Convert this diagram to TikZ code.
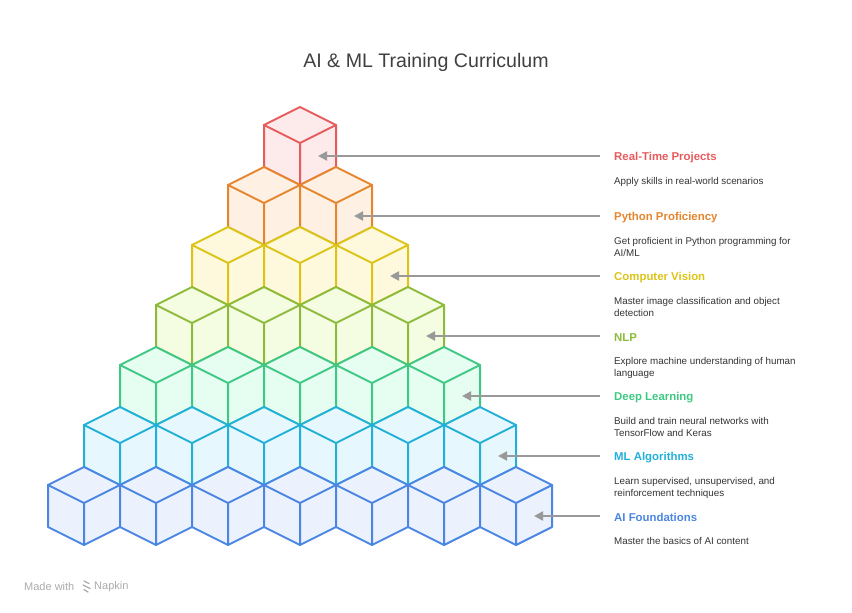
\documentclass[tikz,border=0pt]{standalone}
\usepackage{fontspec}
\setmainfont{Liberation Sans}
\usetikzlibrary{arrows.meta}

\definecolor{rtred}{HTML}{E85B5D}
\definecolor{rtredfill}{HTML}{FDEBEB}
\definecolor{pyorange}{HTML}{E5852D}
\definecolor{pyorangefill}{HTML}{FEF0E3}
\definecolor{cvyellow}{HTML}{DCC417}
\definecolor{cvyellowfill}{HTML}{FEF9DC}
\definecolor{nlplime}{HTML}{8DBA3A}
\definecolor{nlplimefill}{HTML}{F4FDE1}
\definecolor{dlgreen}{HTML}{3EC883}
\definecolor{dlgreenfill}{HTML}{E6FDF2}
\definecolor{mlcyan}{HTML}{22B0D8}
\definecolor{mlcyanfill}{HTML}{E6F8FE}
\definecolor{aiblue}{HTML}{4A86E2}
\definecolor{aibluefill}{HTML}{EBF2FE}
\definecolor{pointergray}{HTML}{999999}
\definecolor{desctext}{HTML}{333333}

\tikzset{
  cubeface/.style={draw=#1, fill=#1fill, line width=2pt, line join=round},
  cubeedge/.style={draw=#1, line width=2pt, line join=round, line cap=round},
  pointer/.style={draw=pointergray, line width=2pt, -{Triangle[length=9pt,width=9pt]}},
  lbltitle/.style={anchor=west, inner sep=0pt, text=#1, font=\bfseries\fontsize{11.4}{13}\selectfont},
  lbldesc/.style={anchor=north west, inner sep=0pt, align=left, text=desctext, font=\fontsize{9.8}{12}\selectfont},
  footer/.style={anchor=west, inner sep=0pt, text=black!33, font=\fontsize{11}{12}\selectfont}
}

% one cube, top vertex at (x,y)
\def\isocube[#1](#2,#3){%
  \draw[cubeface=#1] (#2,#3) -- ++(36,18) -- ++(0,42) -- ++(-36,18) -- ++(-36,-18) -- ++(0,-42) -- cycle;
  \draw[cubeedge=#1] (#2-36,#3+18) -- ++(36,18) -- ++(36,-18) (#2,#3+36) -- ++(0,42);}

\begin{document}
\begin{tikzpicture}[x=1pt,y=-1pt]
  %%%%% START %%%%%
  \useasboundingbox (0,0) rectangle (852,613);

  \node[text=black!75, font=\fontsize{19.6}{23}\selectfont] (heading) at (426,62) {AI \& ML Training Curriculum};

  % pyramid, top row first
  \foreach \k/\c in {0/rtred,1/pyorange,2/cvyellow,3/nlplime,4/dlgreen,5/mlcyan,6/aiblue}{
    \foreach \i in {0,...,\k}{
      \pgfmathsetmacro\cx{300-36*\k+72*\i}
      \pgfmathsetmacro\cy{107+60*\k}
      \isocube[\c](\cx,\cy)
    }
    \coordinate (face\k) at (318+36*\k,156+60*\k);
    \coordinate (tail\k) at (600,156+60*\k);
  }

  % labels
  \node[lbltitle=rtred] (title0) at (614,157.5) {Real-Time Projects};
  \node[lbldesc] (desc0) at (614,177.5) {Apply skills in real-world scenarios};

  \node[lbltitle=pyorange] (title1) at (614,217.5) {Python Proficiency};
  \node[lbldesc] (desc1) at (614,237.5) {Get proficient in Python programming for\\AI/ML};

  \node[lbltitle=cvyellow] (title2) at (614,277.5) {Computer Vision};
  \node[lbldesc] (desc2) at (614,297.5) {Master image classification and object\\detection};

  \node[lbltitle=nlplime] (title3) at (614,337.5) {NLP};
  \node[lbldesc] (desc3) at (614,357.5) {Explore machine understanding of human\\language};

  \node[lbltitle=dlgreen] (title4) at (614,397.5) {Deep Learning};
  \node[lbldesc] (desc4) at (614,417.5) {Build and train neural networks with\\TensorFlow and Keras};

  \node[lbltitle=mlcyan] (title5) at (614,457.5) {ML Algorithms};
  \node[lbldesc] (desc5) at (614,477.5) {Learn supervised, unsupervised, and\\reinforcement techniques};

  \node[lbltitle=aiblue] (title6) at (614,517.5) {AI Foundations};
  \node[lbldesc] (desc6) at (614,537.5) {Master the basics of AI content};

  % pointers
  \foreach \k in {0,...,6}
    \draw[pointer] (tail\k) -- (face\k);

  % footer
  \node[footer] (madewith) at (24,586.5) {Made with};
  \draw[black!33, line width=1.3pt, line cap=round] (84,581) -- (89,583.5) (83,585) -- (90,588.5) (84,589.5) -- (88,592);
  \node[footer] (napkin) at (94,586.5) {Napkin};

  %%%%% END %%%%%
\end{tikzpicture}
\end{document}
